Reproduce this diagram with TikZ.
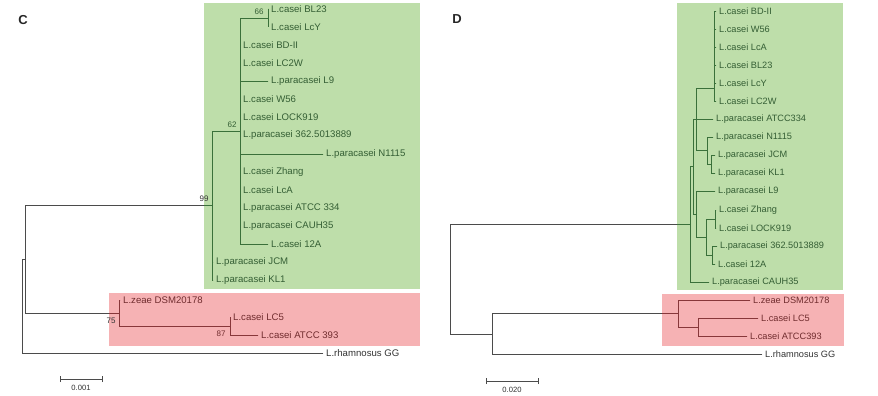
\documentclass[tikz,border=0pt]{standalone}
\usepackage{fontspec}
\setmainfont{Liberation Sans}
\definecolor{gbox}{RGB}{190,222,170}
\definecolor{rbox}{RGB}{246,178,180}
\definecolor{gline}{RGB}{58,112,58}
\definecolor{rline}{RGB}{135,55,58}
\definecolor{kline}{RGB}{75,75,75}
\definecolor{gtext}{RGB}{52,94,52}
\definecolor{rtext}{RGB}{112,44,46}
\definecolor{ktext}{RGB}{50,50,50}
\colorlet{lc}{kline}
\tikzset{
  leafC/.style={anchor=west, inner xsep=3pt, inner ysep=0pt, font=\fontsize{9.6}{10}\selectfont},
  leafD/.style={anchor=west, inner xsep=3pt, inner ysep=0pt, font=\fontsize{9.2}{10}\selectfont},
  gC/.style={leafC, text=gtext}, rC/.style={leafC, text=rtext}, kC/.style={leafC, text=ktext},
  gD/.style={leafD, text=gtext}, rD/.style={leafD, text=rtext}, kD/.style={leafD, text=ktext},
  boot/.style={font=\fontsize{8}{9}\selectfont, inner sep=0pt},
  sclabel/.style={font=\fontsize{7.6}{8}\selectfont, inner sep=0pt, text=ktext},
  br/.style={draw=lc, line width=0.8pt, line cap=rect},
  panel/.style={font=\fontsize{13}{15}\selectfont\bfseries, text=black!85, inner sep=0pt},
  scalebar/.style={draw=kline, line width=0.8pt},
}
\newcommand\connC{%
  \draw[br] (cR) |- (cN1);
  \draw[br] (cR) |- (CLrh.west);
  \draw[br] (cN1) |- (cN99);
  \draw[br] (cN1) |- (cN75);
  \draw[br] (cN99) |- (cN62);
  \draw[br] (cN99) |- (CJCM.west);
  \draw[br] (cN99) |- (CKL1.west);
  \draw[br] (cN62) |- (cN66);
  \draw[br] (cN66) |- (CBL23.west);
  \draw[br] (cN66) |- (CLcY.west);
  \draw[br] (cN62) |- (CBDII.west);
  \draw[br] (cN62) |- (CLC2W.west);
  \draw[br] (cN62) |- (CL9.west);
  \draw[br] (cN62) |- (CW56.west);
  \draw[br] (cN62) |- (CLOCK.west);
  \draw[br] (cN62) |- (C362.west);
  \draw[br] (cN62) |- (CN1115.west);
  \draw[br] (cN62) |- (CZhang.west);
  \draw[br] (cN62) |- (CLcA.west);
  \draw[br] (cN62) |- (CA334.west);
  \draw[br] (cN62) |- (CCAUH.west);
  \draw[br] (cN62) |- (C12A.west);
  \draw[br] (cN75) |- (Czeae.west);
  \draw[br] (cN75) |- (cN87);
  \draw[br] (cN87) |- (CLC5.west);
  \draw[br] (cN87) |- (CA393.west);
}
\newcommand\connD{%
  \draw[br] (dR) |- (dG0);
  \draw[br] (dR) |- (dR1);
  \draw[br] (dR1) |- (dRed0);
  \draw[br] (dR1) |- (DLrh.west);
  \draw[br] (dRed0) |- (Dzeae.west);
  \draw[br] (dRed0) |- (dRed1);
  \draw[br] (dRed1) |- (DLC5.west);
  \draw[br] (dRed1) |- (DA393.west);
  \draw[br] (dG0) |- (dG1);
  \draw[br] (dG0) |- (DCAUH.west);
  \draw[br] (dG1) |- (dG2);
  \draw[br] (dG1) |- (dG5);
  \draw[br] (dG2) |- (dCA);
  \draw[br] (dG2) |- (DA334.west);
  \draw[br] (dG2) |- (dG3);
  \draw[br] (dCA) |- (DBDII.west);
  \draw[br] (dCA) |- (DW56.west);
  \draw[br] (dCA) |- (DLcA.west);
  \draw[br] (dCA) |- (DBL23.west);
  \draw[br] (dCA) |- (DLcY.west);
  \draw[br] (dCA) |- (DLC2W.west);
  \draw[br] (dG3) |- (DN1115.west);
  \draw[br] (dG3) |- (dG4);
  \draw[br] (dG4) |- (DJCM.west);
  \draw[br] (dG4) |- (DKL1.west);
  \draw[br] (dG5) |- (DL9.west);
  \draw[br] (dG5) |- (dG6);
  \draw[br] (dG6) |- (dG7);
  \draw[br] (dG6) |- (dG8);
  \draw[br] (dG7) |- (DZhang.west);
  \draw[br] (dG7) |- (DLOCK.west);
  \draw[br] (dG8) |- (D362.west);
  \draw[br] (dG8) |- (D12A.west);
}
\begin{document}
\begin{tikzpicture}[x=1pt, y=-1pt]
\useasboundingbox (0,0) rectangle (878,396);
% boxes
\fill[gbox] (204,3) rectangle (420,289);
\fill[rbox] (109,293) rectangle (420,346);
\fill[gbox] (677,3) rectangle (843,290);
\fill[rbox] (662,294) rectangle (844,346);
% panel letters
\node[panel] (PC) at (23,20) {C};
\node[panel] (PD) at (457,19) {D};
% ---------- Panel C ----------
\coordinate (cR) at (22,306);
\coordinate (cN1) at (25,259.25);
\coordinate (cN99) at (212,205.5);
\coordinate (cN62) at (240,131);
\coordinate (cN66) at (268,18);
\coordinate (cN75) at (119,313);
\coordinate (cN87) at (230,326);
\node[gC] (CBL23) at (268,9) {L.casei BL23};
\node[gC] (CLcY) at (268,27) {L.casei LcY};
\node[gC] (CBDII) at (240,45) {L.casei BD-II};
\node[gC] (CLC2W) at (240,63) {L.casei LC2W};
\node[gC] (CL9) at (268,81) {L.paracasei L9};
\node[gC] (CW56) at (240,99.5) {L.casei W56};
\node[gC] (CLOCK) at (240,117.5) {L.casei LOCK919};
\node[gC] (C362) at (240,135.5) {L.paracasei 362.5013889};
\node[gC] (CN1115) at (323,154) {L.paracasei N1115};
\node[gC] (CZhang) at (240,172) {L.casei Zhang};
\node[gC] (CLcA) at (240,190) {L.casei LcA};
\node[gC] (CA334) at (240,208) {L.paracasei ATCC 334};
\node[gC] (CCAUH) at (240,226) {L.paracasei CAUH35};
\node[gC] (C12A) at (268,244) {L.casei 12A};
\node[gC] (CJCM) at (213,262) {L.paracasei JCM};
\node[gC] (CKL1) at (213,280) {L.paracasei KL1};
\node[rC] (Czeae) at (120,300) {L.zeae DSM20178};
\node[rC] (CLC5) at (230,317) {L.casei LC5};
\node[rC] (CA393) at (258,335) {L.casei ATCC 393};
\node[kC] (CLrh) at (323,353) {L.rhamnosus GG};
% ---------- Panel D ----------
\coordinate (dR) at (450,279);
\coordinate (dR1) at (492,334);
\coordinate (dRed0) at (678,313.5);
\coordinate (dRed1) at (698,327);
\coordinate (dG0) at (690,224.3);
\coordinate (dG1) at (693,166.6);
\coordinate (dG2) at (696,119.3);
\coordinate (dCA) at (714,88);
\coordinate (dG3) at (707,150.5);
\coordinate (dG4) at (711,164);
\coordinate (dG5) at (696,214);
\coordinate (dG6) at (706,237);
\coordinate (dG7) at (715,219);
\coordinate (dG8) at (712,255);
\node[gD] (DBDII) at (716,11) {L.casei BD-II};
\node[gD] (DW56) at (716,29) {L.casei W56};
\node[gD] (DLcA) at (716,47) {L.casei LcA};
\node[gD] (DBL23) at (716,65) {L.casei BL23};
\node[gD] (DLcY) at (716,83) {L.casei LcY};
\node[gD] (DLC2W) at (716,101) {L.casei LC2W};
\node[gD] (DA334) at (713,119) {L.paracasei ATCC334};
\node[gD] (DN1115) at (713,137) {L.paracasei N1115};
\node[gD] (DJCM) at (715,155) {L.paracasei JCM};
\node[gD] (DKL1) at (715,173) {L.paracasei KL1};
\node[gD] (DL9) at (715,191) {L.paracasei L9};
\node[gD] (DZhang) at (716,210) {L.casei Zhang};
\node[gD] (DLOCK) at (716,228) {L.casei LOCK919};
\node[gD] (D362) at (717,246) {L.paracasei 362.5013889};
\node[gD] (D12A) at (715,264) {L.casei 12A};
\node[gD] (DCAUH) at (709,282) {L.paracasei CAUH35};
\node[rD] (Dzeae) at (750,300) {L.zeae DSM20178};
\node[rD] (DLC5) at (758,318) {L.casei LC5};
\node[rD] (DA393) at (747,336) {L.casei ATCC393};
\node[kD] (DLrh) at (762,354) {L.rhamnosus GG};
% ---------- branches ----------
\connC
\connD
\begin{scope}
  \clip (204,3) rectangle (420,289) (677,3) rectangle (843,290);
  \colorlet{lc}{gline}
  \connC
  \connD
\end{scope}
\begin{scope}
  \clip (109,293) rectangle (420,346) (662,294) rectangle (844,346);
  \colorlet{lc}{rline}
  \connC
  \connD
\end{scope}
% bootstrap values
\node[boot, text=gtext] (b66) at (259,12) {66};
\node[boot, text=gtext] (b62) at (232,125) {62};
\node[boot, text=ktext] (b99) at (204,199) {99};
\node[boot, text=ktext] (b75) at (111,321) {75};
\node[boot, text=rtext] (b87) at (221,334) {87};
% scale bars
\coordinate (sCa) at (60,379);
\coordinate (sCb) at (102,379);
\draw[scalebar] (sCa) -- (sCb);
\draw[scalebar] ([yshift=-3pt]sCa) -- ([yshift=3pt]sCa);
\draw[scalebar] ([yshift=-3pt]sCb) -- ([yshift=3pt]sCb);
\node[sclabel] (sCl) at (81,388) {0.001};
\coordinate (sDa) at (486,381);
\coordinate (sDb) at (538,381);
\draw[scalebar] (sDa) -- (sDb);
\draw[scalebar] ([yshift=-3pt]sDa) -- ([yshift=3pt]sDa);
\draw[scalebar] ([yshift=-3pt]sDb) -- ([yshift=3pt]sDb);
\node[sclabel] (sDl) at (512,390) {0.020};
\end{tikzpicture}
\end{document}
